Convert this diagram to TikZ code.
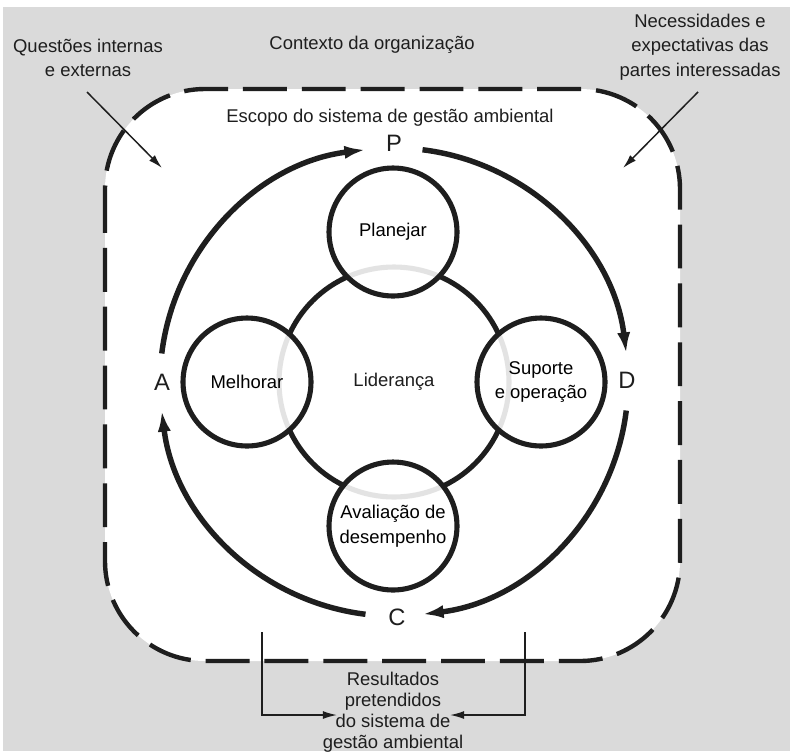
\documentclass[tikz,border=0pt]{standalone}
\usepackage{fontspec}
\setmainfont{Liberation Sans}
\usepackage{tikz}
\usetikzlibrary{arrows.meta, calc, positioning}
\definecolor{ctxgray}{RGB}{218, 218, 218}
\definecolor{inkblack}{RGB}{30, 30, 30}

\begin{document}
\begin{tikzpicture}[x=0.02cm, y=0.02cm,
    font=\fontsize{10.5}{14}\selectfont,
    txt/.style={inner sep=0pt, align=center, text=inkblack},
    pdcaletter/.style={inner sep=0pt, text=inkblack, font=\fontsize{13.5}{15}\selectfont},
    stage/.style={circle, draw=inkblack, line width=2.9pt, minimum size=2.56cm,
        inner sep=0pt, fill=white, fill opacity=0.88, text opacity=1, align=center},
    cycle/.style={draw=inkblack, line width=3.1pt, -{Latex[length=12pt, width=7.5pt]}},
    pointer/.style={draw=inkblack, line width=0.85pt, -{Latex[length=8pt, width=4.5pt]}},
    scopebox/.style={draw=inkblack, fill=white, line width=2.5pt, rounded corners=2cm,
        dash pattern=on 25pt off 8.5pt}]

% page and context background
\useasboundingbox (0,0) rectangle (790,-751);
\fill[white] (0,0) rectangle (790,-751);
\fill[ctxgray] (3,-7) rectangle (790,-751);

% scope of the management system
\draw[scopebox] (105,-89) rectangle (680,-661);

% leadership ring
\coordinate (ctr) at (394,-382);
\draw[inkblack, line width=2.9pt] (ctr) circle[radius=115];

% the four stages
\node[stage] (plan) at (393,-232) {Planejar};
\node[stage] (melh) at (247,-382) {Melhorar};
\node[stage] (supo) at (541,-382) {Suporte\\e operação};
\node[stage] (aval) at (393,-526) {Avaliação de\\desempenho};
\node[txt] (lid) at (ctr) {Liderança};

% PDCA letters and arcs
\node[pdcaletter] (P) at (394,-143) {P};
\node[pdcaletter] (D) at (627,-380) {D};
\node[pdcaletter] (C) at (397,-617) {C};
\node[pdcaletter] (A) at (162,-382) {A};
\draw[cycle] ($(ctr)+(173:234)$) arc[start angle=173, end angle=97, radius=234];
\draw[cycle] ($(ctr)+(83:234)$) arc[start angle=83, end angle=7, radius=234];
\draw[cycle] ($(ctr)+(-7:234)$) arc[start angle=-7, end angle=-83, radius=234];
\draw[cycle] ($(ctr)+(-97:234)$) arc[start angle=-97, end angle=-173, radius=234];

% labels round the scope
\node[txt] (ctx) at (372,-45) {Contexto da organização};
\node[txt] (quest) at (88,-58) {Questões internas\\e externas};
\node[txt] (neces) at (700,-47) {Necessidades e\\expectativas das\\partes interessadas};
\node[txt] (escopo) at (390,-118) {Escopo do sistema de gestão ambiental};

% inputs
\coordinate (qfrom) at (87,-92);
\coordinate (qto) at (162,-168);
\coordinate (nfrom) at (698,-92);
\coordinate (nto) at (623,-168);
\draw[pointer] (qfrom) -- (qto);
\draw[pointer] (nfrom) -- (nto);

% intended outcomes
\node[txt, font=\fontsize{10.5}{12}\selectfont] (result) at (393,-712)
    {Resultados\\pretendidos\\do sistema de\\gestão ambiental};
\coordinate (rleft) at (262,-632);
\coordinate (rright) at (525,-632);
\coordinate (lin) at (337,-715);
\coordinate (rin) at (450,-715);
\draw[pointer] (rleft) |- (lin);
\draw[pointer] (rright) |- (rin);

\end{tikzpicture}
\end{document}
